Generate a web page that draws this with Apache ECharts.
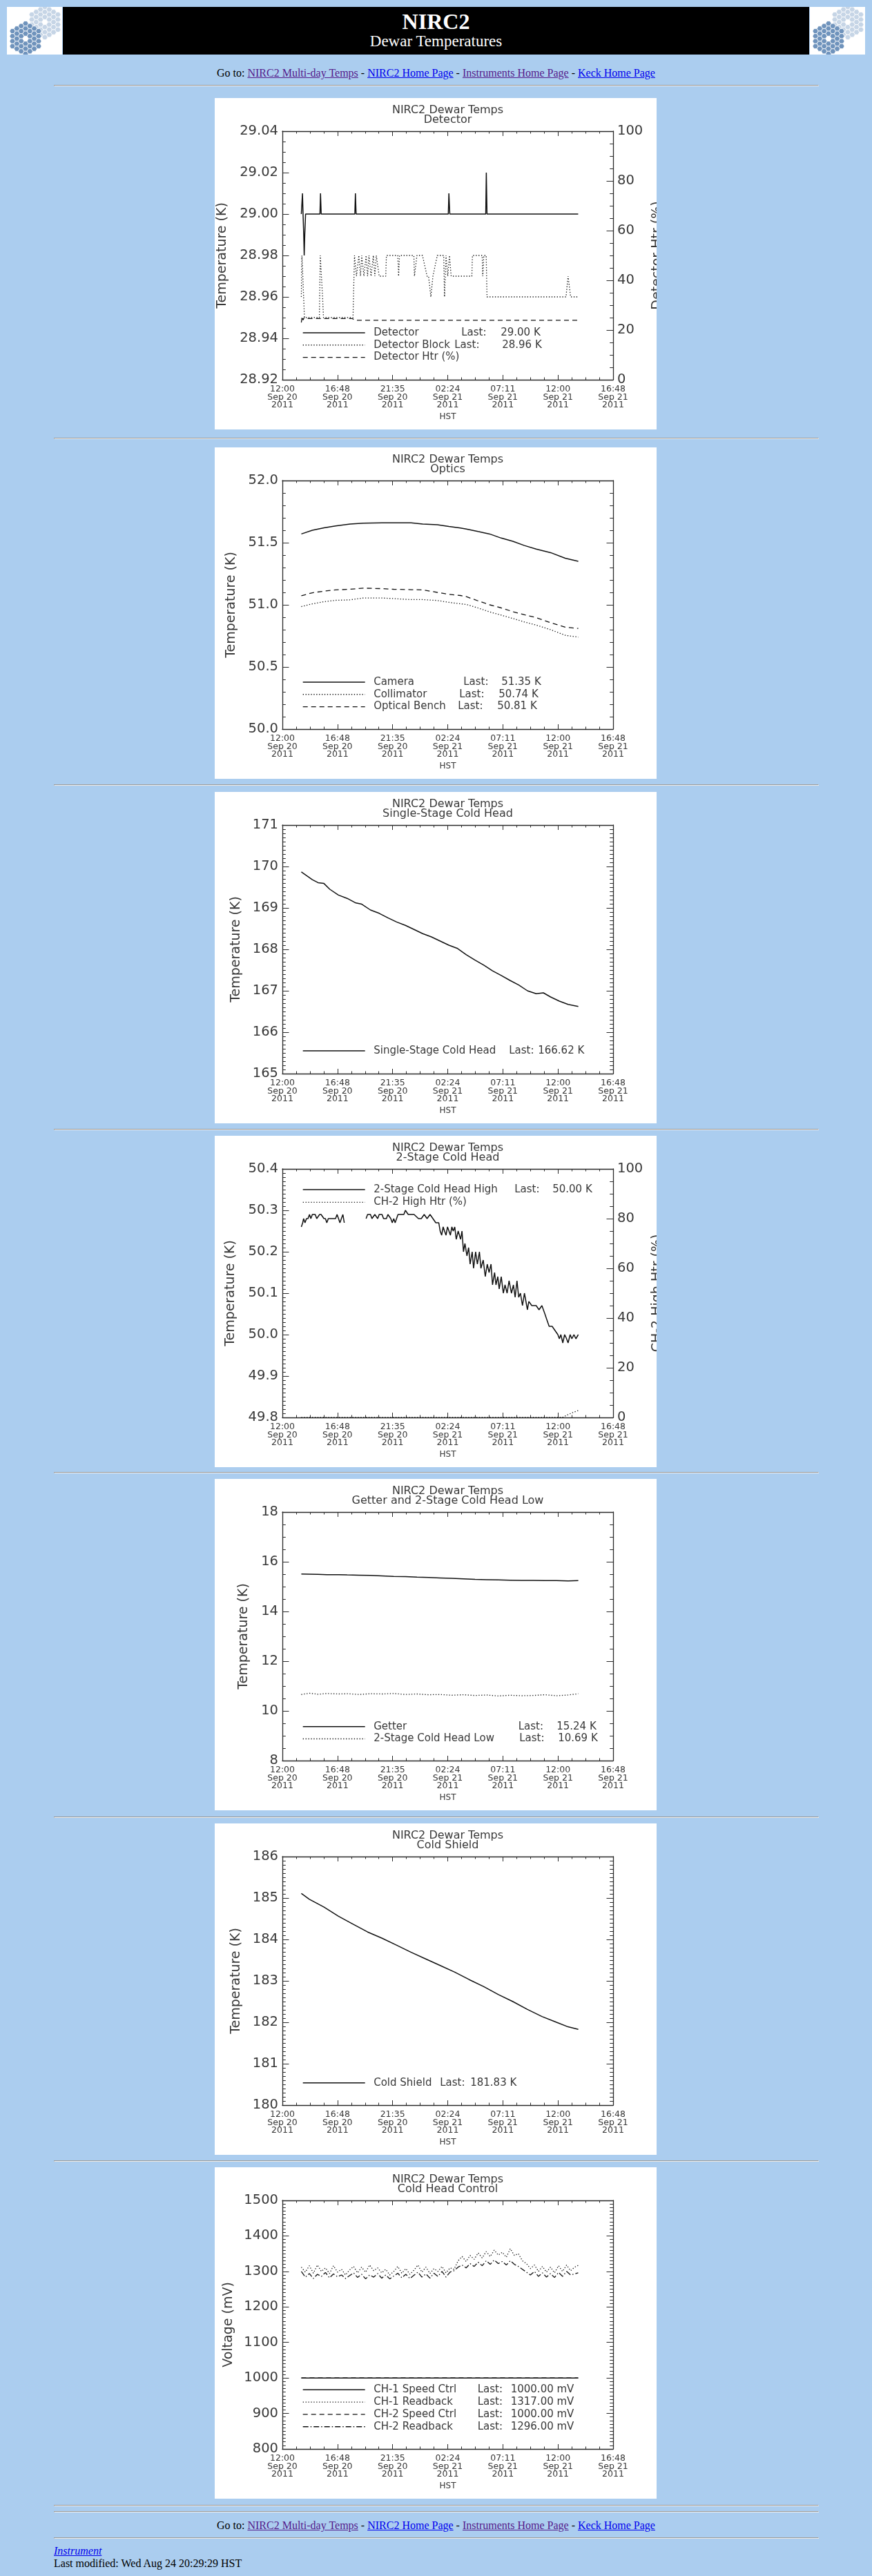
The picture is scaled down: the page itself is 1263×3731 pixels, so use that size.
<!DOCTYPE html>
<html>
<head>
<meta charset="utf-8">
<title>NIRC2 Dewar Temperatures</title>
<script src="https://cdn.jsdelivr.net/npm/echarts@6.0.0/dist/echarts.min.js"></script>
<style>
  html, body { margin: 0; padding: 0; }
  body { background: #abcdef; width: 1263px; height: 3731px; position: relative;
         font-family: "Liberation Serif", "Times New Roman", serif; font-size: 16px; color: #000; }
  .logo { position: absolute; top: 10px; width: 80px; height: 69px; background: #fff; overflow: hidden; }
  #banner { position: absolute; left: 91px; top: 10px; width: 1081px; height: 69px; background: #000; color: #fff; text-align: center; }
  #banner .h1 { position: absolute; left: 0; right: 0; top: 2px; font-weight: bold; font-size: 32px; line-height: 38px; }
  #banner .h2 { position: absolute; left: 0; right: 0; top: 37px; font-size: 23px; line-height: 26px; }
  .goto { position: absolute; left: 0; width: 1263px; text-align: center; line-height: 18px; }
  a { color: #0000ee; }
  a.seen { color: #551a8b; }
  hr { position: absolute; left: 78px; width: 1106px; margin: 0; }
  .plot { position: absolute; left: 311px; width: 640px; height: 480px; background: #fff; }
  .foot { position: absolute; left: 78px; line-height: 18px; }
</style>
</head>
<body>
<div class="logo" id="logoL" style="left:10px"></div>
<div id="banner"><div class="h1">NIRC2</div><div class="h2">Dewar Temperatures</div></div>
<div class="logo" id="logoR" style="left:1173px"></div>

<div class="goto" style="top:97px">Go to: <a class="seen" href="#">NIRC2 Multi-day Temps</a> - <a href="#">NIRC2 Home Page</a> - <a class="seen" href="#">Instruments Home Page</a> - <a href="#">Keck Home Page</a></div>
<hr style="top:123px">

<div class="plot" id="p1" style="top:142px"></div>
<hr style="top:634px">
<div class="plot" id="p2" style="top:648px"></div>
<hr style="top:1136px">
<div class="plot" id="p3" style="top:1147px"></div>
<hr style="top:1635px">
<div class="plot" id="p4" style="top:1645px"></div>
<hr style="top:2132px">
<div class="plot" id="p5" style="top:2142px"></div>
<hr style="top:2631px">
<div class="plot" id="p6" style="top:2641px"></div>
<hr style="top:3129px">
<div class="plot" id="p7" style="top:3139px"></div>
<hr style="top:3628px">
<hr style="top:3637px">

<div class="goto" style="top:3649px">Go to: <a class="seen" href="#">NIRC2 Multi-day Temps</a> - <a href="#">NIRC2 Home Page</a> - <a class="seen" href="#">Instruments Home Page</a> - <a href="#">Keck Home Page</a></div>
<hr style="top:3675px">
<div class="foot" style="top:3686px"><i><a href="#">Instrument</a></i></div>
<div class="foot" style="top:3704px">Last modified: Wed Aug 24 20:29:29 HST</div>

<script>
// time axis: hours after 12:00 HST Sep 20 2011
var xTickLabels = ['12:00\nSep 20\n2011', '16:48\nSep 20\n2011', '21:35\nSep 20\n2011', '02:24\nSep 21\n2011',
                   '07:11\nSep 21\n2011', '12:00\nSep 21\n2011', '16:48\nSep 21\n2011'];

// Detector  [hour, K] / [hour, %]
var detector = [[1.65, 29.00], [1.75, 29.01], [1.80, 29.00], [1.86, 28.99], [1.90, 28.98], [1.95, 28.99], [2.02, 29.00],
  [3.27, 29.00], [3.32, 29.01], [3.38, 29.00], [6.31, 29.00], [6.36, 29.01], [6.42, 29.00], [14.45, 29.00], [14.50, 29.01],
  [14.58, 29.00], [17.71, 29.00], [17.76, 29.02], [17.82, 29.00], [25.76, 29.00]];
var detectorBlock = [[1.65, 28.96], [1.70, 28.98], [1.78, 28.97], [1.85, 28.96], [1.92, 28.95], [2.00, 28.95], [3.22, 28.95],
  [3.30, 28.98], [3.40, 28.97], [3.50, 28.96], [3.58, 28.95], [6.15, 28.95], [6.28, 28.98], [6.45, 28.97], [6.66, 28.98],
  [6.80, 28.97], [6.91, 28.98], [7.10, 28.97], [7.29, 28.98], [7.42, 28.97], [7.54, 28.98], [7.72, 28.97], [7.92, 28.98],
  [8.05, 28.97], [8.18, 28.98], [8.43, 28.97], [9.00, 28.97], [9.06, 28.98], [10.05, 28.98], [10.12, 28.97], [10.20, 28.98],
  [11.45, 28.98], [11.50, 28.97], [11.72, 28.98], [12.20, 28.98], [12.60, 28.97], [12.73, 28.97], [12.93, 28.96],
  [13.11, 28.97], [13.49, 28.98], [14.05, 28.98], [14.12, 28.96], [14.25, 28.98], [14.40, 28.97], [14.55, 28.98],
  [14.70, 28.97], [15.01, 28.97], [16.50, 28.97], [16.55, 28.98], [17.40, 28.98], [17.45, 28.97], [17.54, 28.98],
  [17.75, 28.98], [17.82, 28.96], [24.70, 28.96], [24.88, 28.97], [25.10, 28.96], [25.76, 28.96]];
var detectorHtr = [[1.65, 23.0], [1.72, 25.5], [1.80, 24.0], [1.90, 25.0], [2.05, 24.6], [6.10, 24.6], [6.30, 24.0],
  [6.60, 23.9], [14.45, 23.9], [14.55, 23.5], [14.65, 23.9], [17.70, 23.9], [17.80, 23.5], [17.90, 23.9], [25.76, 23.9]];

// Optics
var opticsTime = [1.65, 2.61, 3.62, 4.63, 5.90, 7.04, 8.68, 9.69, 11.21, 12.22, 13.49, 14.50, 15.51, 16.02, 17.03,
  18.05, 19.06, 20.07, 21.08, 22.10, 23.36, 24.63, 25.77];
var camera = [51.57, 51.60, 51.62, 51.635, 51.65, 51.657, 51.66, 51.66, 51.66, 51.65, 51.645, 51.63, 51.618, 51.61,
  51.59, 51.57, 51.537, 51.511, 51.477, 51.449, 51.42, 51.375, 51.35];
var collimator = [50.986, 51.008, 51.025, 51.036, 51.04, 51.055, 51.055, 51.05, 51.042, 51.042, 51.035, 51.02, 51.008,
  51.003, 50.975, 50.943, 50.917, 50.89, 50.862, 50.837, 50.80, 50.755, 50.74];
var opticalBench = [51.073, 51.097, 51.11, 51.12, 51.125, 51.134, 51.13, 51.125, 51.122, 51.12, 51.10, 51.085, 51.075,
  51.066, 51.032, 51.0, 50.975, 50.945, 50.92, 50.897, 50.856, 50.82, 50.81];

// Single-stage cold head
var singleTime = [1.65, 2.10, 2.61, 3.11, 3.62, 4.13, 4.88, 5.64, 6.40, 6.91, 7.67, 8.43, 9.19, 9.95, 10.71, 11.47,
  12.22, 12.98, 13.74, 14.50, 15.26, 16.02, 16.78, 17.54, 18.30, 19.06, 19.82, 20.58, 21.34, 22.10, 22.73, 23.36,
  24.12, 24.88, 25.77];
var singleStage = [169.87, 169.78, 169.68, 169.61, 169.59, 169.45, 169.31, 169.23, 169.12, 169.09, 168.95, 168.87,
  168.76, 168.66, 168.58, 168.48, 168.38, 168.30, 168.20, 168.10, 168.02, 167.87, 167.74, 167.62, 167.48, 167.37,
  167.25, 167.14, 167.00, 166.93, 166.95, 166.85, 166.75, 166.67, 166.62];

// 2-stage cold head high ('-' = no data)
var coldHeadHigh = [[1.65, 50.26], [1.77, 50.27], [1.85, 50.28], [1.97, 50.27], [2.10, 50.28], [2.23, 50.28], [2.36, 50.29],
  [2.48, 50.28], [2.61, 50.29], [2.73, 50.29], [2.86, 50.29], [2.99, 50.28], [3.11, 50.28], [3.24, 50.29], [3.37, 50.29],
  [3.49, 50.29], [3.62, 50.28], [3.75, 50.28], [3.87, 50.27], [4.00, 50.28], [4.25, 50.28], [4.63, 50.28], [4.76, 50.29],
  [4.89, 50.28], [5.01, 50.27], [5.14, 50.28], [5.27, 50.29], [5.39, 50.27], [6.30, '-'],
  [7.29, 50.28], [7.42, 50.29], [7.54, 50.29], [7.67, 50.29], [7.80, 50.28], [8.05, 50.29], [8.30, 50.28], [8.43, 50.29],
  [8.68, 50.29], [8.81, 50.28], [9.06, 50.28], [9.19, 50.29], [9.31, 50.29], [9.44, 50.28], [9.57, 50.27], [9.70, 50.28],
  [9.82, 50.27], [10.07, 50.29], [10.33, 50.29], [10.58, 50.29], [10.71, 50.30], [10.96, 50.29], [11.21, 50.29],
  [11.47, 50.29], [11.59, 50.29], [11.85, 50.28], [12.10, 50.28], [12.35, 50.29], [12.60, 50.28], [12.86, 50.29],
  [13.11, 50.28], [13.36, 50.27], [13.62, 50.27], [13.74, 50.25], [13.87, 50.24], [14.00, 50.26], [14.12, 50.25],
  [14.25, 50.24], [14.38, 50.26], [14.50, 50.26], [14.63, 50.24], [14.76, 50.26], [14.88, 50.25], [15.01, 50.26],
  [15.14, 50.23], [15.31, 50.25], [15.52, 50.23], [15.64, 50.25], [15.77, 50.20], [15.90, 50.22], [16.07, 50.19],
  [16.22, 50.21], [16.35, 50.17], [16.53, 50.20], [16.65, 50.16], [16.83, 50.20], [16.98, 50.17], [17.16, 50.20],
  [17.29, 50.16], [17.49, 50.18], [17.67, 50.14], [17.84, 50.17], [18.00, 50.15], [18.17, 50.17], [18.30, 50.12],
  [18.48, 50.15], [18.60, 50.12], [18.76, 50.14], [18.88, 50.11], [19.06, 50.14], [19.24, 50.10], [19.39, 50.12],
  [19.57, 50.10], [19.74, 50.13], [19.95, 50.10], [20.12, 50.12], [20.27, 50.09], [20.43, 50.13], [20.58, 50.09],
  [20.73, 50.10], [20.91, 50.07], [21.08, 50.10], [21.21, 50.08], [21.34, 50.06], [21.46, 50.08], [21.72, 50.07],
  [22.10, 50.07], [22.35, 50.06], [22.60, 50.07], [22.86, 50.05], [22.98, 50.04], [23.23, 50.02], [23.49, 50.02],
  [23.74, 50.01], [23.99, 50.00], [24.12, 49.99], [24.25, 50.00], [24.42, 49.98], [24.58, 50.00], [24.75, 49.99],
  [24.88, 49.98], [25.06, 50.00], [25.21, 49.99], [25.39, 50.00], [25.56, 49.99], [25.77, 50.00]];
var ch2HighHtr = [[1.65, 0], [24.37, 0], [24.80, 1.0], [25.30, 2.0], [25.77, 2.8]];

// Getter and 2-stage cold head low
var getterTime = [1.65, 2.35, 3.11, 3.87, 4.88, 5.64, 6.66, 7.67, 8.68, 9.69, 10.71, 11.72, 12.73, 13.74, 14.76,
  15.77, 16.78, 17.79, 18.81, 19.82, 20.83, 21.84, 22.86, 23.87, 24.88, 25.77];
var getter = [15.51, 15.50, 15.49, 15.48, 15.48, 15.47, 15.46, 15.45, 15.43, 15.41, 15.40, 15.38, 15.37, 15.35,
  15.33, 15.31, 15.29, 15.28, 15.27, 15.26, 15.25, 15.25, 15.24, 15.24, 15.23, 15.24];
var coldHeadLow = [10.66, 10.71, 10.67, 10.70, 10.68, 10.69, 10.66, 10.69, 10.68, 10.70, 10.66, 10.68, 10.65, 10.66,
  10.63, 10.65, 10.62, 10.64, 10.60, 10.63, 10.61, 10.62, 10.65, 10.61, 10.64, 10.69];

// Cold shield
var shieldTime = [1.65, 2.35, 3.62, 4.88, 6.15, 7.42, 8.68, 9.95, 11.21, 12.48, 13.74, 15.01, 16.27, 17.54, 18.81,
  20.07, 21.34, 22.60, 23.87, 24.88, 25.77];
var coldShield = [185.11, 184.97, 184.78, 184.56, 184.37, 184.18, 184.03, 183.86, 183.69, 183.53, 183.37, 183.21,
  183.03, 182.86, 182.67, 182.50, 182.31, 182.14, 182.00, 181.89, 181.83];

// Cold head control (mV)
var ctrlTime = [1.65, 2.00, 2.35, 2.70, 3.05, 3.40, 3.75, 4.10, 4.45, 4.80,
  5.15, 5.50, 5.85, 6.20, 6.55, 6.90, 7.25, 7.60, 7.95, 8.30,
  8.65, 9.00, 9.35, 9.70, 10.05, 10.40, 10.75, 11.10, 11.45, 11.80,
  12.15, 12.50, 12.85, 13.20, 13.55, 13.90, 14.25, 14.60, 14.95, 15.30,
  15.65, 16.00, 16.35, 16.70, 17.05, 17.40, 17.75, 18.10, 18.45, 18.80,
  19.15, 19.50, 19.85, 20.20, 20.55, 20.90, 21.25, 21.60, 21.95, 22.30,
  22.65, 23.00, 23.35, 23.70, 24.05, 24.40, 24.75, 25.10, 25.45, 25.76];
var ch1Readback = [1312, 1298, 1316, 1295, 1318, 1300, 1310, 1294, 1316, 1298,
  1306, 1290, 1304, 1314, 1296, 1312, 1298, 1318, 1302, 1310,
  1296, 1306, 1290, 1300, 1314, 1295, 1308, 1292, 1303, 1318,
  1298, 1312, 1294, 1308, 1300, 1314, 1296, 1310, 1306, 1330,
  1342, 1328, 1345, 1334, 1352, 1338, 1356, 1342, 1360, 1346,
  1354, 1340, 1364, 1345, 1350, 1330, 1322, 1308, 1318, 1300,
  1314, 1298, 1312, 1296, 1316, 1300, 1318, 1302, 1312, 1317];
var ch2Readback = [1300, 1284, 1294, 1280, 1292, 1286, 1297, 1282, 1293, 1285,
  1290, 1280, 1288, 1296, 1283, 1292, 1279, 1290, 1284, 1294,
  1281, 1290, 1279, 1287, 1295, 1282, 1292, 1280, 1289, 1298,
  1284, 1293, 1281, 1295, 1286, 1300, 1284, 1298, 1302, 1312,
  1318, 1310, 1322, 1314, 1326, 1316, 1330, 1320, 1332, 1322,
  1328, 1318, 1330, 1320, 1314, 1306, 1298, 1290, 1300, 1286,
  1296, 1284, 1294, 1283, 1297, 1286, 1300, 1290, 1293, 1296];
var ch1Speed = [[1.65, 1000], [25.76, 1000]];
var ch2Speed = [[1.65, 1000], [25.76, 1000]];

var INK = '#2a2a2a', LBL = '#383838', FONT = '"DejaVu Sans", Verdana, sans-serif';
var DASH = { solid: 'solid', dotted: [1.3, 2.6], dashed: [7, 5], dashdot: [8, 3, 1.5, 3] };

function zip(t, v) {
  return t.map(function (x, i) { return [x, v[i]]; });
}

function xAxis(pos) {
  var bottom = pos === 'bottom';
  return {
    type: 'value', position: pos, min: 0, max: 28.8, interval: 4.8,
    axisLine: { onZero: false, lineStyle: { color: INK, width: 1.3 } },
    axisTick: { inside: true, length: 7, lineStyle: { color: INK } },
    minorTick: { show: true, splitNumber: 4, length: 3.5, lineStyle: { color: INK } },
    splitLine: { show: false },
    axisLabel: { show: bottom, margin: 8, fontSize: 12.5, lineHeight: 11.5, color: LBL,
      formatter: function (v) { return xTickLabels[Math.round(v / 4.8)]; } },
    name: bottom ? 'HST' : '', nameLocation: 'middle', nameGap: 47,
    nameTextStyle: { fontSize: 12, color: LBL }
  };
}

function yAxis(pos, a, labels) {
  return {
    type: 'value', position: pos, min: a.min, max: a.max, interval: a.step,
    axisLine: { show: true, onZero: false, lineStyle: { color: INK, width: 1.3 } },
    axisTick: { show: true, inside: true, length: 9.5, lineStyle: { color: INK } },
    minorTick: { show: true, splitNumber: a.minor, length: 4.8, lineStyle: { color: INK } },
    splitLine: { show: false },
    axisLabel: { show: labels, margin: 6, fontSize: 19.5, color: LBL,
      formatter: function (v) { return v.toFixed(a.dec); } },
    name: labels ? a.name : '', nameLocation: 'middle', nameRotate: 90, nameGap: a.gap,
    nameTextStyle: { fontSize: 19, color: LBL }
  };
}

function drawPanel(id, cfg) {
  var chart = echarts.init(document.getElementById(id));
  var base = { fontSize: 15, lineHeight: 16, color: LBL, fontFamily: FONT };
  var rich = { g: Object.assign({ width: 7.5 }, base), v: base };
  var labels = {};
  cfg.series.forEach(function (s, i) {
    rich['n' + i] = Object.assign({ width: s.nw }, base);
    rich['l' + i] = Object.assign({ width: s.lw }, base);
    labels[s.label] = '{g| }{n' + i + '|' + s.label + '}' +
      (s.last ? '{l' + i + '|Last:}{v|' + s.last + '}' : '');
  });

  chart.setOption({
    animation: false,
    textStyle: { fontFamily: FONT },
    title: {
      text: 'NIRC2 Dewar Temps\n' + cfg.sub, left: 337.5, top: 11, textAlign: 'center', padding: 0,
      textStyle: { fontSize: 16, lineHeight: 14, fontWeight: 'normal', color: LBL }
    },
    grid: { left: 98, right: 63, top: 48, bottom: 72, outerBoundsMode: 'none' },
    xAxis: [xAxis('bottom'), xAxis('top')],
    yAxis: [yAxis('left', cfg.y, true), cfg.y2 ? yAxis('right', cfg.y2, true) : yAxis('right', cfg.y, false)],
    legend: {
      orient: 'vertical', left: 127, top: cfg.legendTop - 8, padding: 0,
      itemGap: cfg.legendGap || 1.8, itemWidth: 90, itemHeight: 10, selectedMode: false,
      itemStyle: { opacity: 0 }, lineStyle: { width: 1.4 },
      data: cfg.series.map(function (s) { return s.label; }),
      formatter: function (name) { return labels[name]; },
      textStyle: Object.assign({ rich: rich }, base)
    },
    series: cfg.series.map(function (s) {
      return {
        name: s.label, type: 'line', data: s.data, xAxisIndex: 0, yAxisIndex: s.axis || 0,
        showSymbol: false, symbol: 'none', silent: true, connectNulls: false,
        lineStyle: { color: '#111', width: s.style === 'solid' ? 1.5 : 1.3, type: DASH[s.style] },
        itemStyle: { color: '#111' }
      };
    })
  });
}

drawPanel('p1', {
  sub: 'Detector',
  y: { min: 28.92, max: 29.04, step: 0.02, minor: 4, dec: 2, name: 'Temperature (K)', gap: 77 },
  y2: { min: 0, max: 100, step: 20, minor: 4, dec: 0, name: 'Detector Htr (%)', gap: 46 },
  legendTop: 340,
  series: [
    { label: 'Detector', data: detector, style: 'solid', last: '29.00 K', nw: 127, lw: 57 },
    { label: 'Detector Block', data: detectorBlock, style: 'dotted', last: '28.96 K', nw: 117, lw: 69 },
    { label: 'Detector Htr (%)', data: detectorHtr, style: 'dashed', axis: 1, nw: 150, lw: 0 }
  ]
});

drawPanel('p2', {
  sub: 'Optics',
  y: { min: 50, max: 52, step: 0.5, minor: 5, dec: 1, name: 'Temperature (K)', gap: 64 },
  legendTop: 340,
  series: [
    { label: 'Camera', data: zip(opticsTime, camera), style: 'solid', last: '51.35 K', nw: 130, lw: 55 },
    { label: 'Collimator', data: zip(opticsTime, collimator), style: 'dotted', last: '50.74 K', nw: 124, lw: 57 },
    { label: 'Optical Bench', data: zip(opticsTime, opticalBench), style: 'dashed', last: '50.81 K', nw: 122, lw: 57 }
  ]
});

drawPanel('p3', {
  sub: 'Single-Stage Cold Head',
  y: { min: 165, max: 171, step: 1, minor: 10, dec: 0, name: 'Temperature (K)', gap: 57.5 },
  legendTop: 375,
  series: [
    { label: 'Single-Stage Cold Head', data: zip(singleTime, singleStage), style: 'solid', last: '166.62 K', nw: 196, lw: 42 }
  ]
});

drawPanel('p4', {
  sub: '2-Stage Cold Head',
  y: { min: 49.8, max: 50.4, step: 0.1, minor: 10, dec: 1, name: 'Temperature (K)', gap: 65 },
  y2: { min: 0, max: 100, step: 20, minor: 4, dec: 0, name: 'CH-2 High Htr (%)', gap: 46 },
  legendTop: 78, legendGap: 2.4,
  series: [
    { label: '2-Stage Cold Head High', data: coldHeadHigh, style: 'solid', last: '50.00 K', nw: 204, lw: 55 },
    { label: 'CH-2 High Htr (%)', data: ch2HighHtr, style: 'dotted', axis: 1, nw: 150, lw: 0 }
  ]
});

drawPanel('p5', {
  sub: 'Getter and 2-Stage Cold Head Low',
  y: { min: 8, max: 18, step: 2, minor: 4, dec: 0, name: 'Temperature (K)', gap: 46 },
  legendTop: 358.7,
  series: [
    { label: 'Getter', data: zip(getterTime, getter), style: 'solid', last: '15.24 K', nw: 209.5, lw: 55.5 },
    { label: '2-Stage Cold Head Low', data: zip(getterTime, coldHeadLow), style: 'dotted', last: '10.69 K', nw: 211, lw: 56 }
  ]
});

drawPanel('p6', {
  sub: 'Cold Shield',
  y: { min: 180, max: 186, step: 1, minor: 10, dec: 0, name: 'Temperature (K)', gap: 57.5 },
  legendTop: 375.7,
  series: [
    { label: 'Cold Shield', data: zip(shieldTime, coldShield), style: 'solid', last: '181.83 K', nw: 96, lw: 44 }
  ]
});

drawPanel('p7', {
  sub: 'Cold Head Control',
  y: { min: 800, max: 1500, step: 100, minor: 10, dec: 0, name: 'Voltage (mV)', gap: 68.5 },
  legendTop: 322.3,
  series: [
    { label: 'CH-1 Speed Ctrl', data: ch1Speed, style: 'solid', last: '1000.00 mV', nw: 150.5, lw: 48 },
    { label: 'CH-1 Readback', data: zip(ctrlTime, ch1Readback), style: 'dotted', last: '1317.00 mV', nw: 150.5, lw: 48 },
    { label: 'CH-2 Speed Ctrl', data: ch2Speed, style: 'dashed', last: '1000.00 mV', nw: 150.5, lw: 48 },
    { label: 'CH-2 Readback', data: zip(ctrlTime, ch2Readback), style: 'dashdot', last: '1296.00 mV', nw: 150.5, lw: 48 }
  ]
});

// Keck mirror-segment logos
function hexPoints(cx, cy, r) {
  var p = [];
  for (var k = 0; k < 6; k++) {
    var a = Math.PI / 3 * k;
    p.push((cx + r * Math.cos(a)).toFixed(2) + ',' + (cy + r * Math.sin(a)).toFixed(2));
  }
  return p.join(' ');
}
function drawLogo(id) {
  var svg = '<svg xmlns="http://www.w3.org/2000/svg" width="80" height="69">';
  [[55, 22, '#c6d5e6'], [27, 46, '#6f93bc']].forEach(function (c) {
    for (var q = -3; q <= 3; q++) {
      for (var r = -3; r <= 3; r++) {
        if (Math.abs(q + r) > 3 || (q === 0 && r === 0)) continue;
        svg += '<polygon fill="' + c[2] + '" stroke="#fff" stroke-width="0.8" points="' +
          hexPoints(c[0] + q * 6.3, c[1] + (r + q / 2) * 7.3, 4.2) + '"/>';
      }
    }
  });
  document.getElementById(id).innerHTML = svg + '</svg>';
}
drawLogo('logoL');
drawLogo('logoR');
</script>
</body>
</html>
